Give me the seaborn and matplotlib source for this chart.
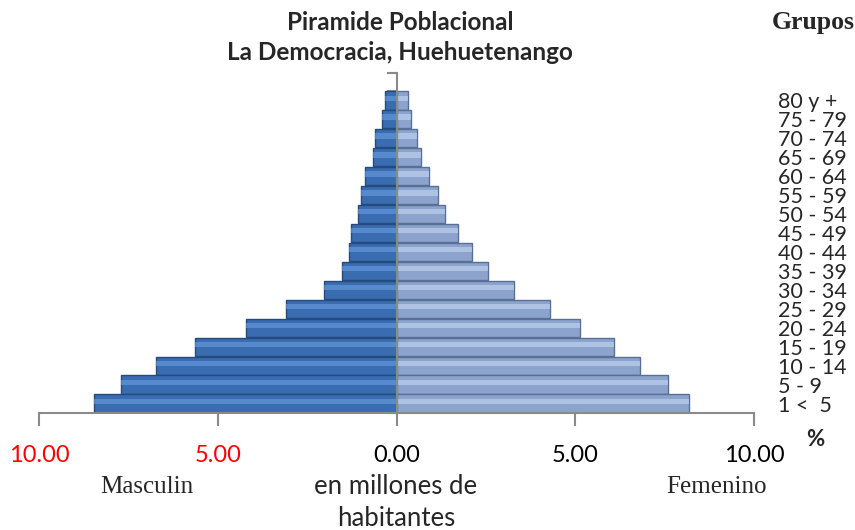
import numpy as np
import pandas as pd
import matplotlib
matplotlib.use("Agg")
import matplotlib.pyplot as plt
import seaborn as sns

# -------------------------------
# Data (percent of population)
# -------------------------------
grupos = ["1 <  5", "5 - 9", "10 - 14", "15 - 19", "20 - 24", "25 - 29",
          "30 - 34", "35 - 39", "40 - 44", "45 - 49", "50 - 54", "55 - 59",
          "60 - 64", "65 - 69", "70 - 74", "75 - 79", "80 y +"]
masculino = [8.47, 7.70, 6.74, 5.65, 4.21, 3.08, 2.04, 1.52, 1.33, 1.26,
             1.09, 0.99, 0.87, 0.66, 0.59, 0.40, 0.31]
femenino = [8.17, 7.59, 6.80, 6.09, 5.14, 4.30, 3.30, 2.55, 2.10, 1.73,
            1.36, 1.17, 0.92, 0.69, 0.57, 0.41, 0.32]
x_ticks = [-10, -5, 0, 5, 10]

df = pd.DataFrame({"grupo": grupos,
                   "Masculino": [-v for v in masculino],
                   "Femenino": femenino})
orden = grupos[::-1]  # oldest at top

sns.set_style("white")
plt.rcParams["font.family"] = ["Lato", "DejaVu Sans"]

fig = plt.figure(figsize=(8.55, 5.3), dpi=100)
ax = fig.add_axes([39 / 855, 117 / 530, 715 / 855, 340 / 530])

# bars
sns.barplot(data=df, x="Masculino", y="grupo", order=orden, orient="h",
            color="#3a6cb2", edgecolor="#254a7c", linewidth=1,
            width=0.96, saturation=1, ax=ax)
sns.barplot(data=df, x="Femenino", y="grupo", order=orden, orient="h",
            color="#8ca4cd", edgecolor="#5a6f94", linewidth=1,
            width=0.96, saturation=1, ax=ax)

# highlight stripe for a bevel look
pos = np.arange(len(orden))
d = df.set_index("grupo").loc[orden]
ax.barh(pos - 0.12, d["Masculino"], height=0.28, color="#6c9de0",
        alpha=0.6, linewidth=0, zorder=3)
ax.barh(pos - 0.12, d["Femenino"], height=0.28, color="#c6d8f4",
        alpha=0.6, linewidth=0, zorder=3)

ax.set_xlim(-10, 10)
ax.set_ylim(len(orden) - 0.5, -1.45)
ax.set_xlabel("")
ax.set_ylabel("")

# axes / spines
for s in ["top", "right"]:
    ax.spines[s].set_visible(False)
ax.spines["left"].set_position(("data", 0))
ax.spines["left"].set_color("#8a8a8a")
ax.spines["left"].set_linewidth(1.5)
ax.spines["left"].set_zorder(5)
ax.spines["bottom"].set_color("#8a8a8a")
ax.spines["bottom"].set_linewidth(1.5)

ax.set_xticks(x_ticks)
ax.set_xticklabels([f"{abs(t):.2f}" for t in x_ticks], fontsize=17)
for lab, t in zip(ax.get_xticklabels(), x_ticks):
    lab.set_color("red" if t < 0 else "black")
ax.tick_params(axis="x", bottom=True, direction="out", length=9, width=1.5,
               color="#8a8a8a", pad=14)

ax.set_yticks(pos)
ax.set_yticklabels(orden, fontsize=15.5)
ax.tick_params(axis="y", which="major", left=False, right=False,
               labelleft=False, labelright=True, pad=14)
ax.set_yticks(list(np.arange(-0.5, len(orden), 1)) + [-1.45], minor=True)
ax.tick_params(axis="y", which="minor", left=True, length=7, width=1.5,
               color="#8a8a8a", direction="out")
for lab in ax.get_yticklabels():
    lab.set_horizontalalignment("left")

# texts
fig.text(400 / 855, 1 - 22 / 530, "Piramide Poblacional", ha="center",
         va="center", fontsize=17.5, fontweight="bold")
fig.text(400 / 855, 1 - 52 / 530, "La Democracia, Huehuetenango",
         ha="center", va="center", fontsize=17.5, fontweight="bold")
fig.text(813 / 855, 1 - 22 / 530, "Grupos", ha="center", va="center",
         fontsize=18.5, fontweight="bold", family="Liberation Serif")
fig.text(815 / 855, 1 - 440 / 530, "%", ha="center", va="center",
         fontsize=16, fontweight="bold")
fig.text(147 / 855, 1 - 487 / 530, "Masculin", ha="center", va="center",
         fontsize=18, family="Liberation Serif")
fig.text(716 / 855, 1 - 487 / 530, "Femenino", ha="center", va="center",
         fontsize=18, family="Liberation Serif")
fig.text(396 / 855, 1 - 487 / 530, "en millones de", ha="center",
         va="center", fontsize=18.5)
fig.text(396 / 855, 1 - 518 / 530, "habitantes", ha="center",
         va="center", fontsize=18.5)

fig.savefig("out.png", dpi=100)
